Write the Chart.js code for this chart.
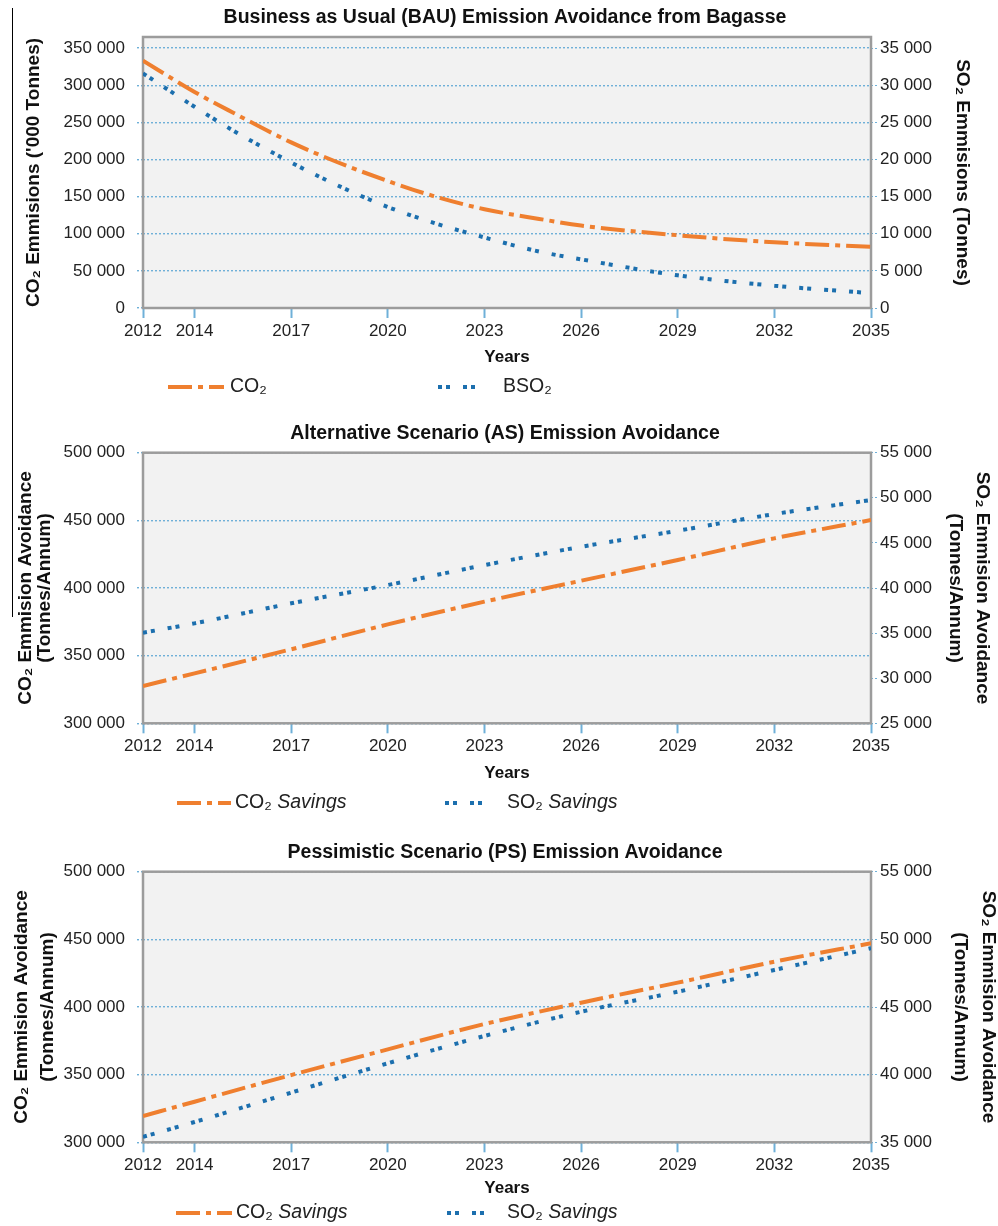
<!DOCTYPE html>
<html lang="en">
<head>
<meta charset="UTF-8">
<title>Emission Avoidance from Bagasse</title>
<script src="https://cdn.jsdelivr.net/npm/chart.js"></script>
<style>
    body {
        margin: 0;
        background: #fff;
        font-family: "Liberation Sans", Arial, sans-serif;
    }

    .panel {
        position: absolute;
        left: 0;
        width: 998px;
    }

    #p1 { top: 0; height: 410px; }
    #p2 { top: 410px; height: 410px; }
    #p3 { top: 820px; height: 406px; }

    /* thin black edge left over from the scan */
    #edge {
        position: absolute;
        left: 12px;
        top: 8px;
        width: 1px;
        height: 609px;
        background: #000;
    }
</style>
</head>
<body>
<div class="panel" id="p1"><canvas id="bauChart"></canvas></div>
<div class="panel" id="p2"><canvas id="asChart"></canvas></div>
<div class="panel" id="p3"><canvas id="psChart"></canvas></div>
<div id="edge"></div>

<script>
    // x axis: labelled years, the first label sits at the start of the axis
    const tickYears = [2012, 2014, 2017, 2020, 2023, 2026, 2029, 2032, 2035];
    const xStart = 2012.4;

    // y axis tick values
    const bauLeftTicks = [0, 50000, 100000, 150000, 200000, 250000, 300000, 350000];
    const bauRightTicks = [0, 5000, 10000, 15000, 20000, 25000, 30000, 35000];
    const scenLeftTicks = [300000, 350000, 400000, 450000, 500000];
    const asRightTicks = [25000, 30000, 35000, 40000, 45000, 50000, 55000];
    const psRightTicks = [35000, 40000, 45000, 50000, 55000];

    // Business as Usual
    const bauYears = [2012.4, 2014, 2015.2, 2017, 2018.4, 2020, 2021.4, 2023, 2024.7, 2026, 2029, 2032, 2035];
    const bauCO2 = [333000, 291000, 263000, 223000, 197000, 171000, 151000, 133000, 120000, 111000, 98000, 88500, 82500];
    const bauSO2 = [31600, 27100, 23900, 19600, 16600, 13600, 11500, 9500, 7600, 6550, 4400, 3000, 2000];
    const bauLabels = ['CO₂', 'BSO₂'];

    // Alternative and Pessimistic scenarios
    const scenYears = [2012.4, 2014, 2017, 2020, 2023, 2026, 2029, 2032, 2035];
    const asCO2 = [327600, 336900, 354700, 373100, 389900, 405400, 420700, 436700, 450200];
    const asSO2 = [35040, 36080, 38300, 40330, 42540, 44570, 46350, 48200, 49750];
    const psCO2 = [319400, 330000, 349700, 368700, 387400, 403200, 418000, 433500, 447100];
    const psSO2 = [35400, 36500, 38670, 40840, 42860, 44650, 46130, 47740, 49340];
    const savingLabels = ['CO₂ ', 'SO₂ '];
    const savingSuffix = 'Savings';

    const ORANGE = '#ef7f2f';
    const BLUE = '#1c6fae';
    const GRID = '#6fb0d8';
    const FONT = '"Liberation Sans", Arial, sans-serif';

    Chart.defaults.font.family = FONT;
    Chart.defaults.color = '#222';

    const fmt = v => v.toLocaleString('en-US').replace(/,/g, ' ');

    // grey plot background and frame
    const plotFrame = {
        id: 'plotFrame',
        beforeDraw(chart) {
            const { ctx, chartArea: a } = chart;
            ctx.save();
            ctx.fillStyle = '#f2f2f2';
            ctx.fillRect(a.left, a.top, a.width, a.height);
            ctx.restore();
        },
        beforeDatasetsDraw(chart) {
            const { ctx, chartArea: a } = chart;
            ctx.save();
            ctx.strokeStyle = '#9c9c9c';
            ctx.lineWidth = 2.5;
            ctx.strokeRect(a.left, a.top, a.width, a.height);
            ctx.restore();
        }
    };

    // legend with line samples, optional italic word after the label
    const lineLegend = {
        id: 'lineLegend',
        afterDraw(chart, args, opts) {
            const ctx = chart.ctx;
            ctx.save();
            chart.data.datasets.forEach((ds, i) => {
                const it = opts.items[i];
                ctx.strokeStyle = ds.borderColor;
                ctx.lineWidth = ds.borderWidth;
                ctx.setLineDash(ds.borderDash);
                ctx.beginPath();
                ctx.moveTo(it.x0, opts.y);
                ctx.lineTo(it.x1, opts.y);
                ctx.stroke();
                ctx.setLineDash([]);
                ctx.fillStyle = '#222';
                ctx.textBaseline = 'middle';
                ctx.font = opts.size + 'px ' + FONT;
                ctx.fillText(ds.label, it.tx, opts.y);
                if (opts.suffix) {
                    const w = ctx.measureText(ds.label).width;
                    ctx.font = 'italic ' + opts.size + 'px ' + FONT;
                    ctx.fillText(opts.suffix, it.tx + w, opts.y);
                }
            });
            ctx.restore();
        }
    };

    function line(label, xs, ys, color, dash, axis) {
        return {
            label: label,
            data: xs.map((x, i) => ({ x: x, y: ys[i] })),
            borderColor: color,
            borderWidth: 4,
            borderDash: dash,
            pointRadius: 0,
            cubicInterpolationMode: 'monotone',
            yAxisID: axis
        };
    }

    function makeChart(id, c) {
        return new Chart(document.getElementById(id), {
            type: 'line',
            data: {
                datasets: [
                    line(c.labels[0], c.years, c.co2, ORANGE, [24, 6, 5, 6], 'y'),
                    line(c.labels[1], c.years, c.so2, BLUE, [4, 4, 4, 13], 'y2')
                ]
            },
            options: {
                responsive: true,
                maintainAspectRatio: false,
                animation: false,
                events: [],
                // the 12px left padding only nudges the title to the right
                layout: { padding: { left: 12, right: 0, top: 0, bottom: c.padBottom } },
                plugins: {
                    legend: { display: false },
                    tooltip: { enabled: false },
                    title: {
                        display: true,
                        text: c.title,
                        color: '#111',
                        font: { size: 19.5, weight: 'bold' },
                        padding: c.titlePad
                    },
                    lineLegend: c.legend
                },
                scales: {
                    x: {
                        type: 'linear',
                        min: xStart,
                        max: 2035,
                        afterBuildTicks: axis => {
                            axis.ticks = tickYears.map(y => ({ value: Math.max(y, xStart) }));
                        },
                        afterFit: s => { s.height = c.xHeight; },
                        ticks: {
                            autoSkip: false,
                            maxRotation: 0,
                            padding: 3,
                            font: { size: 17 },
                            callback: (v, i) => tickYears[i]
                        },
                        grid: {
                            drawOnChartArea: false,
                            drawTicks: true,
                            tickLength: 10,
                            tickColor: GRID,
                            tickWidth: 2
                        },
                        border: { display: false },
                        title: {
                            display: true,
                            text: 'Years',
                            color: '#111',
                            font: { size: 17, weight: 'bold' },
                            padding: { top: 0, bottom: 0 }
                        }
                    },
                    y: {
                        position: 'left',
                        min: c.left[0],
                        max: c.left[1],
                        afterBuildTicks: axis => {
                            axis.ticks = c.leftTicks.map(v => ({ value: v }));
                        },
                        afterFit: s => { s.width = 131; },
                        ticks: {
                            autoSkip: false,
                            padding: 12,
                            font: { size: 17 },
                            callback: fmt
                        },
                        grid: {
                            color: GRID,
                            lineWidth: 1.4,
                            tickLength: 6,
                            tickColor: GRID,
                            tickBorderDash: [2, 2]
                        },
                        border: { display: false, dash: [2, 2] },
                        title: {
                            display: true,
                            text: c.leftTitle,
                            color: '#111',
                            font: { size: 19, weight: 'bold', lineHeight: c.leftTitleLH },
                            padding: { top: c.leftTitlePad, bottom: 0 }
                        }
                    },
                    y2: {
                        position: 'right',
                        min: c.right[0],
                        max: c.right[1],
                        afterBuildTicks: axis => {
                            axis.ticks = c.rightTicks.map(v => ({ value: v }));
                        },
                        afterFit: s => { s.width = 127; },
                        ticks: {
                            autoSkip: false,
                            padding: 3,
                            font: { size: 17 },
                            callback: fmt
                        },
                        grid: {
                            drawOnChartArea: false,
                            tickLength: 6,
                            tickColor: GRID,
                            tickBorderDash: [2, 2]
                        },
                        border: { display: false },
                        title: {
                            display: true,
                            text: c.rightTitle,
                            color: '#111',
                            font: { size: 19, weight: 'bold', lineHeight: c.rightTitleLH },
                            padding: { top: c.rightTitlePad, bottom: 0 }
                        }
                    }
                }
            },
            plugins: [plotFrame, lineLegend]
        });
    }

    makeChart('bauChart', {
        title: 'Business as Usual (BAU) Emission Avoidance from Bagasse',
        titlePad: { top: 5.8, bottom: 7.8 },
        years: bauYears, co2: bauCO2, so2: bauSO2, labels: bauLabels,
        left: [0, 365000], right: [0, 36500],
        leftTicks: bauLeftTicks, rightTicks: bauRightTicks,
        leftTitle: "CO₂ Emmisions ('000 Tonnes)", leftTitleLH: 1.2, leftTitlePad: 10.6,
        rightTitle: 'SO₂ Emmisions (Tonnes)', rightTitleLH: 1.2, rightTitlePad: 24.6,
        xHeight: 60, padBottom: 42,
        legend: {
            y: 387, size: 19.5,
            items: [{ x0: 168, x1: 224, tx: 230 }, { x0: 438, x1: 480, tx: 503 }]
        }
    });

    makeChart('asChart', {
        title: 'Alternative Scenario (AS) Emission Avoidance',
        titlePad: { top: 12.3, bottom: 7 },
        years: scenYears, co2: asCO2, so2: asSO2, labels: savingLabels,
        left: [300000, 500000], right: [25000, 55000],
        leftTicks: scenLeftTicks, rightTicks: asRightTicks,
        leftTitle: ['CO₂ Emmision Avoidance', '(Tonnes/Annum)'], leftTitleLH: 1.0, leftTitlePad: 4,
        rightTitle: ['SO₂ Emmision Avoidance', '(Tonnes/Annum)'], rightTitleLH: 1.42, rightTitlePad: 2.5,
        xHeight: 60, padBottom: 36.7,
        legend: {
            y: 393, size: 19.5, suffix: savingSuffix,
            items: [{ x0: 177, x1: 231, tx: 235 }, { x0: 445, x1: 485, tx: 507 }]
        }
    });

    makeChart('psChart', {
        title: 'Pessimistic Scenario (PS) Emission Avoidance',
        titlePad: { top: 20.8, bottom: 7.5 },
        years: scenYears, co2: psCO2, so2: psSO2, labels: savingLabels,
        left: [300000, 500000], right: [35000, 55000],
        leftTicks: scenLeftTicks, rightTicks: psRightTicks,
        leftTitle: ['CO₂ Emmision Avoidance', '(Tonnes/Annum)'], leftTitleLH: 1.37, leftTitlePad: -3,
        rightTitle: ['SO₂ Emmision Avoidance', '(Tonnes/Annum)'], rightTitleLH: 1.47, rightTitlePad: -4,
        xHeight: 56.4, padBottom: 27.3,
        legend: {
            y: 393, size: 19.5, suffix: savingSuffix,
            items: [{ x0: 176, x1: 232, tx: 236 }, { x0: 447, x1: 487, tx: 507 }]
        }
    });
</script>
</body>
</html>
